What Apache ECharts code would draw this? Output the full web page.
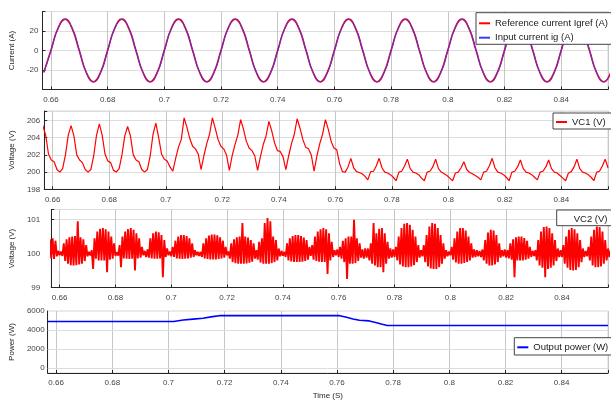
<!DOCTYPE html>
<html>
<head>
<meta charset="utf-8">
<script src="https://cdn.jsdelivr.net/npm/echarts@6/dist/echarts.min.js"></script>
<style>
html,body{margin:0;padding:0;background:#fff;}
#chart{width:611px;height:401px;}
</style>
</head>
<body>
<div id="chart"></div>
<script>
// ---------------- DATA ----------------
// Panel 1: currents, sampled every 2.5 ms starting at 0.6575 s
const currentStart = 0.6575, currentStep = 0.0025;
const inputCurrent = [
  -22.6,
  0.0, 22.6, 32.0, 22.6, 0.0, -22.6, -32.0, -22.6,
  0.0, 22.6, 32.0, 22.6, 0.0, -22.6, -32.0, -22.6,
  0.0, 22.6, 32.0, 22.6, 0.0, -22.6, -32.0, -22.6,
  0.0, 22.6, 32.0, 22.6, 0.0, -22.6, -32.0, -22.6,
  0.0, 22.6, 32.0, 22.6, 0.0, -22.6, -32.0, -22.6,
  0.0, 22.6, 32.0, 22.6, 0.0, -22.6, -32.0, -22.6,
  0.0, 22.6, 32.0, 22.6, 0.0, -22.6, -32.0, -22.6,
  0.0, 22.6, 32.0, 22.6, 0.0, -22.6, -32.0, -22.6,
  0.0, 22.6, 32.0, 22.6, 0.0, -22.6, -32.0, -22.6,
  0.0, 22.6, 32.0, 22.6, 0.0, -22.6, -32.0, -22.6
];
const referenceCurrent = [
  -22.4,
  0.3, 22.8, 32.1, 22.4, -0.3, -22.8, -32.1, -22.4,
  0.3, 22.8, 32.1, 22.4, -0.3, -22.8, -32.1, -22.4,
  0.3, 22.8, 32.1, 22.4, -0.3, -22.8, -32.1, -22.4,
  0.3, 22.8, 32.1, 22.4, -0.3, -22.8, -32.1, -22.4,
  0.3, 22.8, 32.1, 22.4, -0.3, -22.8, -32.1, -22.4,
  0.3, 22.8, 32.1, 22.4, -0.3, -22.8, -32.1, -22.4,
  0.3, 22.8, 32.1, 22.4, -0.3, -22.8, -32.1, -22.4,
  0.3, 22.8, 32.1, 22.4, -0.3, -22.8, -32.1, -22.4,
  0.3, 22.8, 32.1, 22.4, -0.3, -22.8, -32.1, -22.4,
  0.3, 22.8, 32.1, 22.4, -0.3, -22.8, -32.1, -22.4
];

// Panel 2: VC1, sampled every 1 ms starting at 0.6565 s
const vc1Start = 0.6565, vc1Step = 0.001;
const vc1 = [
  205.4, 204.3, 202.1, 201.4, 201.2, 200.3, 200.0, 200.4, 202.0, 204.3,
  205.4, 204.2, 202.0, 201.4, 201.1, 200.3, 200.0, 200.3, 201.9, 204.3,
  205.6, 204.3, 202.1, 201.3, 201.1, 200.2, 200.0, 200.4, 202.0, 204.2,
  205.3, 204.2, 202.0, 201.4, 201.2, 200.3, 200.0, 200.3, 201.9, 204.4,
  205.7, 204.0, 202.1, 201.5, 201.3, 200.6, 200.1, 201.6, 202.9, 203.8,
  206.3, 205.2, 203.9, 203.0, 202.7, 202.1, 200.3, 201.9, 203.3, 204.4,
  206.3, 205.1, 203.8, 203.0, 202.7, 202.0, 200.2, 201.9, 203.2, 204.3,
  206.1, 205.0, 203.6, 202.8, 202.5, 201.9, 200.2, 201.8, 203.2, 204.2,
  205.9, 204.8, 203.4, 202.5, 202.4, 201.8, 200.3, 201.9, 203.3, 204.4,
  206.2, 205.1, 203.8, 202.9, 202.7, 202.0, 200.1, 201.9, 203.3, 204.4,
  206.1, 205.0, 203.6, 202.8, 202.6, 201.0, 200.05, 200.0, 200.6, 201.6,
  200.5, 200.05, 199.95, 199.8, 199.5, 199.1, 200.05, 200.1, 200.7, 201.6,
  200.5, 200.0, 199.9, 199.7, 199.4, 199.0, 200.0, 200.1, 200.7, 201.5,
  200.4, 200.0, 199.9, 199.7, 199.3, 199.0, 200.0, 200.1, 200.6, 201.5,
  200.4, 200.0, 199.8, 199.6, 199.3, 199.0, 199.9, 200.0, 200.5, 201.2,
  200.3, 199.95, 199.8, 199.6, 199.4, 199.1, 200.0, 200.1, 200.7, 201.6,
  200.5, 200.0, 199.9, 199.7, 199.4, 199.0, 200.0, 200.1, 200.6, 201.4,
  200.4, 200.0, 199.9, 199.7, 199.4, 199.1, 200.0, 200.1, 200.6, 201.4,
  200.4, 200.0, 199.9, 199.6, 199.3, 199.0, 199.9, 200.05, 200.6, 201.5,
  200.4, 200.0, 199.9, 199.7, 199.4, 199.0, 200.0, 200.1, 200.7, 201.5,
  200.5
];

// Panel 3: VC2, sampled every 0.5 ms starting at 0.6565 s
const vc2Start = 0.6565, vc2Step = 0.0005;
const vc2 = [
  100.42, 99.86, 100.45, 99.84, 100.38, 99.92, 100.08, 99.95,
  100.06, 99.93, 100.3, 99.78, 100.42, 99.7, 100.48, 99.66, 100.5, 99.65, 100.52, 99.66, 100.95, 99.68, 100.48, 99.7, 100.42, 99.78, 100.25, 99.92,
  100.05, 99.95, 100.1, 99.55, 100.45, 99.85, 100.65, 99.8, 100.73, 99.8, 100.75, 99.8, 100.72, 99.45, 100.65, 99.82, 100.5, 99.85, 100.3, 99.93,
  100.04, 99.94, 100.25, 99.6, 100.5, 99.86, 100.65, 99.85, 100.72, 99.84, 100.75, 99.85, 100.7, 99.5, 100.6, 99.86, 100.45, 99.88, 100.2, 99.95,
  100.08, 99.9, 100.12, 99.88, 100.45, 99.86, 100.6, 99.85, 100.65, 99.85, 100.63, 99.86, 100.55, 99.3, 100.4, 99.9, 100.15, 99.95, 100.06, 99.92,
  100.2, 99.9, 100.38, 99.86, 100.5, 99.85, 100.55, 99.84, 100.55, 99.85, 100.52, 99.86, 100.45, 99.88, 100.3, 99.9, 100.1, 99.95, 100.05, 99.93,
  100.05, 99.9, 100.3, 99.86, 100.45, 99.84, 100.53, 99.83, 100.56, 99.83, 100.56, 99.83, 100.54, 99.84, 100.48, 99.86, 100.38, 99.88, 100.2, 99.95,
  100.06, 99.85, 100.3, 99.75, 100.42, 99.72, 100.48, 99.7, 100.5, 99.7, 100.9, 99.7, 100.5, 99.71, 100.47, 99.73, 100.4, 99.76, 100.3, 99.85,
  100.1, 99.82, 100.35, 99.74, 100.45, 99.7, 100.9, 99.7, 101.05, 99.7, 100.95, 99.72, 100.5, 99.75, 100.4, 99.8, 100.15, 99.92, 100.08, 99.94,
  100.05, 99.9, 100.3, 99.8, 100.45, 99.77, 100.52, 99.75, 100.55, 99.75, 100.55, 99.75, 100.52, 99.76, 100.47, 99.78, 100.4, 99.82, 100.2, 99.93,
  100.25, 99.82, 100.5, 99.78, 100.65, 99.76, 100.72, 99.75, 100.75, 99.75, 100.72, 99.4, 100.6, 99.8, 100.35, 99.9, 100.1, 99.95, 100.12, 99.9,
  100.2, 99.85, 100.38, 99.75, 100.45, 99.25, 100.5, 99.7, 100.5, 99.7, 101.0, 99.72, 100.45, 99.78, 100.3, 99.88, 100.12, 99.85, 100.15, 99.88,
  100.15, 99.8, 100.3, 99.7, 100.9, 99.65, 100.6, 99.6, 100.73, 99.6, 100.75, 99.45, 100.6, 99.7, 100.35, 99.85, 100.15, 99.88, 100.12, 99.9,
  100.2, 99.8, 100.5, 99.68, 100.75, 99.62, 100.88, 99.6, 100.9, 99.6, 100.85, 99.62, 100.7, 99.66, 100.5, 99.75, 100.25, 99.88, 100.1, 99.92,
  100.25, 99.75, 100.55, 99.62, 100.8, 99.56, 100.9, 99.55, 100.88, 99.55, 100.75, 99.6, 100.55, 99.7, 100.3, 99.85, 100.1, 99.92, 100.06, 99.95,
  100.2, 99.82, 100.45, 99.74, 100.65, 99.7, 100.75, 99.7, 100.75, 99.72, 100.68, 99.75, 100.5, 99.8, 100.3, 99.88, 100.12, 99.9, 100.1, 99.92,
  100.08, 99.9, 100.12, 99.8, 100.4, 99.7, 100.62, 99.65, 100.7, 99.65, 100.68, 99.68, 100.55, 99.75, 100.3, 99.88, 100.1, 99.92, 100.12, 99.88,
  100.1, 99.86, 100.3, 99.82, 100.42, 99.3, 100.48, 99.8, 100.5, 99.8, 100.5, 99.8, 100.46, 99.82, 100.38, 99.85, 100.2, 99.9, 100.08, 99.93,
  100.1, 99.8, 100.4, 99.65, 100.65, 99.58, 100.78, 99.3, 100.8, 99.55, 100.75, 99.58, 100.6, 99.65, 100.4, 99.78, 100.15, 99.9, 100.1, 99.9,
  100.25, 99.7, 100.5, 99.58, 100.7, 99.52, 100.75, 99.5, 100.72, 99.52, 100.6, 99.6, 100.4, 99.75, 100.15, 99.9, 100.08, 99.92, 100.2, 99.8,
  100.5, 99.65, 100.7, 99.6, 100.8, 99.6, 100.78, 99.62, 100.65, 99.7, 100.4, 99.8, 100.15, 99.9, 100.1, 99.92, 100.06, 99.95, 100.05, 99.95
];

// Panel 4: output power
const powerTime = [0.657, 0.7018, 0.7030, 0.7053, 0.7088, 0.7123, 0.7157, 0.7181, 0.7610, 0.7634, 0.7657, 0.7680, 0.7715, 0.7738, 0.7761, 0.7779, 0.8565];
const powerValue = [4900, 4900, 4960, 5060, 5150, 5240, 5410, 5510, 5510, 5340, 5170, 5030, 4960, 4790, 4610, 4480, 4480];
const powerGridValues = [0, 2000, 4000];

// Axis ranges / labels
const timeMin = 0.657, timeMax = 0.8565;
const seriesNames = ['Reference current Igref (A)', 'Input current ig (A)', 'VC1 (V)', 'VC2 (V)', 'Output power (W)'];
const yTitles = ['Current (A)', 'Voltage (V)', 'Voltage (V)', 'Power (W)'];
const xTitle = 'Time (S)';

// ---------------- CHART ----------------
const FONT = "'Liberation Sans', Arial, Helvetica, sans-serif";
const toPairs = (arr, t0, dt) => arr.map((v, i) => [t0 + i * dt, v]);

const grids = [
  {left: 36, top: 11.5, width: 577, height: 78},
  {left: 37.5, top: 111, width: 577, height: 78.3},
  {left: 44.5, top: 209.5, width: 568, height: 78},
  {left: 41.5, top: 311, width: 572.6, height: 63}
];

const xFmt = v => {
  const r = Math.round(v * 50);
  return Math.abs(v * 50 - r) < 1e-6 ? String(+(r / 50).toFixed(2)) : '';
};

const yCfg = [
  {min: -40, max: 40, interval: 20, fmt: v => (Math.abs(v) >= 40 ? '' : String(v)), margin: 4, nameGap: 17},
  {min: 198, max: 207.1, interval: 2, fmt: v => (Number.isInteger(v) && v <= 206 ? String(v) : ''), margin: 4, nameGap: 18},
  {min: 99, max: 101.3, interval: 1, fmt: v => (Number.isInteger(v) ? String(v) : ''), margin: 11, nameGap: 23},
  {min: -500, max: 6000, interval: 500, fmt: v => (v >= 0 && v % 2000 === 0 ? String(v) : ''), margin: 3, nameGap: 21}
];

const axisColor = '#262626';

const legendBase = {
  orient: 'vertical', itemHeight: 12, itemWidth: 11, z: 10,
  backgroundColor: '#ffffff', borderColor: '#444444', borderWidth: 1, borderRadius: 0,
  itemStyle: {opacity: 0, borderWidth: 0},
  textStyle: {fontSize: 9.5, color: '#1a1a1a', lineHeight: 12, fontFamily: FONT}
};

const option = {
  animation: false,
  backgroundColor: '#ffffff',
  textStyle: {fontFamily: FONT},
  grid: grids.map(g => Object.assign({show: true, borderColor: '#d6d6d6', borderWidth: 1, backgroundColor: '#ffffff'}, g)),
  xAxis: grids.map((g, i) => ({
    type: 'value', gridIndex: i, min: timeMin, max: timeMax, splitNumber: 10,
    axisLine: {show: true, onZero: false, lineStyle: {color: axisColor, width: 1}},
    axisTick: {show: true, inside: true, length: 3, lineStyle: {color: axisColor}},
    axisLabel: {fontSize: 8, color: '#444444', margin: 6, formatter: xFmt, showMinLabel: true, showMaxLabel: true, fontFamily: FONT},
    splitLine: {show: true, lineStyle: {color: '#c6c6c6', width: 1}},
    name: i === 3 ? xTitle : '',
    nameLocation: 'middle', nameGap: 19,
    nameTextStyle: {fontSize: 8, color: axisColor, fontFamily: FONT}
  })),
  yAxis: yCfg.map((c, i) => ({
    type: 'value', gridIndex: i, min: c.min, max: c.max, interval: c.interval,
    axisLine: {show: true, onZero: false, lineStyle: {color: axisColor, width: 1}},
    axisTick: {show: i !== 3, inside: true, length: 3, lineStyle: {color: axisColor}},
    axisLabel: {fontSize: 8, color: '#444444', margin: c.margin, formatter: c.fmt, showMinLabel: true, showMaxLabel: true, fontFamily: FONT},
    splitLine: {show: i !== 3, lineStyle: {color: '#dddddd', width: 1}},
    name: yTitles[i], nameLocation: 'middle', nameGap: c.nameGap,
    nameTextStyle: {fontSize: 8, color: axisColor, fontFamily: FONT}
  })),
  legend: [
    Object.assign({}, legendBase, {
      data: [seriesNames[0], seriesNames[1]], left: 476, top: 12.7,
      itemGap: 2.4, padding: [4.6, 40, 0.6, 2]
    }),
    Object.assign({}, legendBase, {
      data: [seriesNames[2]], left: 553, top: 113,
      padding: [3, 30, 1, 2]
    }),
    Object.assign({}, legendBase, {
      data: [{name: seriesNames[3], icon: 'none', itemStyle: {opacity: 0}, lineStyle: {opacity: 0}}],
      left: 556.7, top: 210, itemWidth: 10,
      padding: [3, 30, 0.7, 2]
    }),
    Object.assign({}, legendBase, {
      data: [seriesNames[4]], left: 514.3, top: 337.7,
      padding: [3.6, 30, 1.7, 2]
    })
  ],
  series: [
    {
      name: seriesNames[0], type: 'line', xAxisIndex: 0, yAxisIndex: 0,
      data: toPairs(referenceCurrent, currentStart, currentStep),
      smooth: 0.5, symbol: 'none', lineStyle: {color: '#ff0000', width: 1.7}, itemStyle: {color: '#ff0000'}
    },
    {
      name: seriesNames[1], type: 'line', xAxisIndex: 0, yAxisIndex: 0,
      data: toPairs(inputCurrent, currentStart, currentStep),
      smooth: 0.5, symbol: 'none', lineStyle: {color: '#3b3bff', width: 1}, itemStyle: {color: '#3b3bff'}
    },
    {
      name: seriesNames[2], type: 'line', xAxisIndex: 1, yAxisIndex: 1,
      data: toPairs(vc1, vc1Start, vc1Step),
      symbol: 'none', lineStyle: {color: '#ff0000', width: 1.2}, itemStyle: {color: '#ff0000'}
    },
    {
      name: seriesNames[3], type: 'line', xAxisIndex: 2, yAxisIndex: 2,
      data: toPairs(vc2, vc2Start, vc2Step),
      symbol: 'none', lineStyle: {color: '#ff0000', width: 1.9}, itemStyle: {color: '#ff0000'}
    },
    {
      name: seriesNames[4], type: 'line', xAxisIndex: 3, yAxisIndex: 3,
      data: powerTime.map((t, i) => [t, powerValue[i]]),
      symbol: 'none', lineStyle: {color: '#0000ff', width: 1.6}, itemStyle: {color: '#0000ff'},
      markLine: {
        silent: true, symbol: 'none', animation: false, z: 1,
        label: {show: false},
        lineStyle: {color: '#dddddd', width: 1, type: 'solid'},
        data: powerGridValues.map(v => ({yAxis: v}))
      }
    }
  ]
};

const chart = echarts.init(document.getElementById('chart'), null, {renderer: 'canvas', width: 611, height: 401});
chart.setOption(option);
</script>
</body>
</html>
